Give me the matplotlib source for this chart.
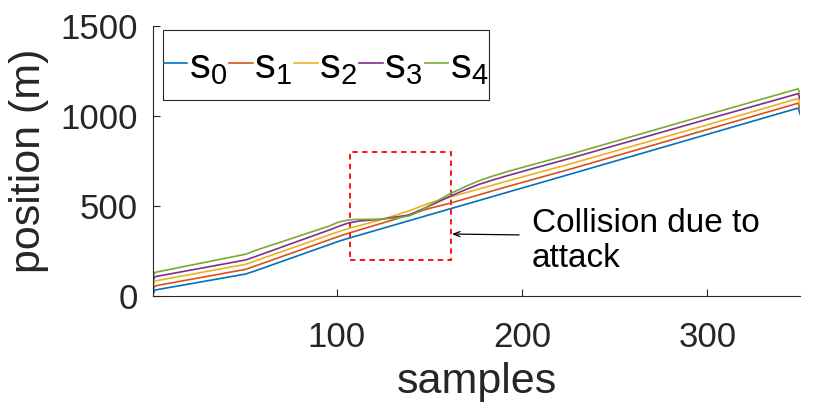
import matplotlib
matplotlib.use("Agg")
import matplotlib.pyplot as plt
from matplotlib.patches import Rectangle

plt.rcParams['font.family'] = ['Liberation Sans', 'DejaVu Sans']
plt.rcParams['mathtext.fontset'] = 'custom'
plt.rcParams['mathtext.rm'] = 'Liberation Sans'
plt.rcParams['mathtext.it'] = 'Liberation Sans:italic'
plt.rcParams['mathtext.bf'] = 'Liberation Sans:bold'

# ---- data ----
s0_x = [1, 2, 51, 56, 101, 106, 160, 226, 300, 349, 350]
s0_y = [8, 33, 122, 139, 303, 319, 480, 676, 897, 1043, 1010]

s1_x = [1, 2, 51, 56, 101, 106, 130, 150, 161, 190, 226, 300, 349, 350]
s1_y = [30, 56, 148, 166, 330, 347, 421, 486, 514, 601, 704, 924, 1070, 1040]

s2_x = [1, 2, 51, 56, 101, 107, 123, 139, 150, 161, 177, 190, 226, 300, 349, 350]
s2_y = [57, 83, 176, 194, 357, 376, 420, 472, 515, 548, 594, 632, 733, 950, 1096, 1065]

s3_x = [1, 2, 51, 56, 96, 101, 106, 112, 123, 139, 150, 161, 170, 177, 185, 193, 204, 215, 226, 300, 349, 350]
s3_y = [82, 107, 200, 218, 366, 386, 404, 416, 425, 449, 499, 552, 592, 620, 646, 670, 702, 733, 764, 981, 1123, 1095]

s4_x = [1, 2, 51, 56, 96, 101, 106, 110, 123, 132, 139, 145, 150, 155, 161, 170, 177, 185, 193, 204, 215, 226, 300, 349, 350]
s4_y = [105, 131, 232, 252, 388, 410, 421, 425, 426, 432, 444, 470, 503, 532, 566, 610, 640, 668, 693, 724, 755, 786, 1006, 1150, 1120]

series_labels = [r'$\mathregular{s_0}$', r'$\mathregular{s_1}$', r'$\mathregular{s_2}$',
                 r'$\mathregular{s_3}$', r'$\mathregular{s_4}$']
colors = ['#0072BD', '#D95319', '#EDB120', '#7E2F8E', '#77AC30']

xticks = [100, 200, 300]
yticks = [0, 500, 1000, 1500]

# attack box (samples, position)
box_x = [107, 162]
box_y = [200, 800]
annot_text = 'Collision due to\nattack'

# ---- figure ----
W, H = 830, 408
fig = plt.figure(figsize=(W / 100, H / 100), dpi=100)
ax = fig.add_axes([153 / W, 1 - 296 / H, (800 - 153) / W, (296 - 25.7) / H])

dark = '#262626'
xs = [s0_x, s1_x, s2_x, s3_x, s4_x]
ys = [s0_y, s1_y, s2_y, s3_y, s4_y]
handles = []
for x, y, c, lab in zip(xs, ys, colors, series_labels):
    h, = ax.plot(x, y, color=c, lw=1.2, label=lab)
    handles.append(h)

ax.add_patch(Rectangle((box_x[0], box_y[0]), box_x[1] - box_x[0], box_y[1] - box_y[0],
                       fill=False, edgecolor='red', lw=1.3, linestyle=(0, (3, 2.4))))

ax.annotate('', xy=(162.3, 344), xytext=(198.5, 339),
            arrowprops=dict(arrowstyle='->,head_length=0.45,head_width=0.18', color='black', lw=0.9,
                            shrinkA=0, shrinkB=0))
# va='baseline' on multi-line text aligns the last line's baseline
ax.text(205.5, 163, annot_text, fontsize=24, color='black', va='baseline', ha='left', linespacing=1.15)

ax.set_xlim(1, 350)
ax.set_ylim(0, 1500)
ax.set_xticks(xticks)
ax.set_yticks(yticks)
for s in ['top', 'right']:
    ax.spines[s].set_visible(False)
for s in ['left', 'bottom']:
    ax.spines[s].set_color(dark)
    ax.spines[s].set_linewidth(0.8)
ax.tick_params(direction='in', length=5, width=0.8, color=dark, labelcolor=dark, labelsize=25)
ax.tick_params(axis='x', pad=18)
ax.tick_params(axis='y', pad=11)

ax.set_xlabel('samples', fontsize=31, color=dark, labelpad=6)
ax.set_ylabel('position (m)', fontsize=31, color=dark, labelpad=8)

# legend frame drawn as a rectangle (figure coords), legend content centred in it
lx0, lx1, ly0, ly1 = 163, 489, 30, 100
frame = Rectangle((lx0 / W, 1 - ly1 / H), (lx1 - lx0) / W, (ly1 - ly0) / H,
                  transform=fig.transFigure, facecolor='white', edgecolor=dark,
                  lw=0.8, zorder=4, clip_on=False)
ax.add_artist(frame)
leg = ax.legend(handles=handles, ncol=5, loc='center',
                bbox_to_anchor=((lx0 + lx1) / 2 / W, 1 - ((ly0 + ly1) / 2 + 2) / H),
                bbox_transform=fig.transFigure,
                borderaxespad=0, fontsize=30, handlelength=0.56,
                handletextpad=0.04, columnspacing=0.05, borderpad=0.0,
                frameon=False)
leg.set_zorder(5)
for t in leg.get_texts():
    t.set_color('black')

fig.savefig('out.png', dpi=100)
